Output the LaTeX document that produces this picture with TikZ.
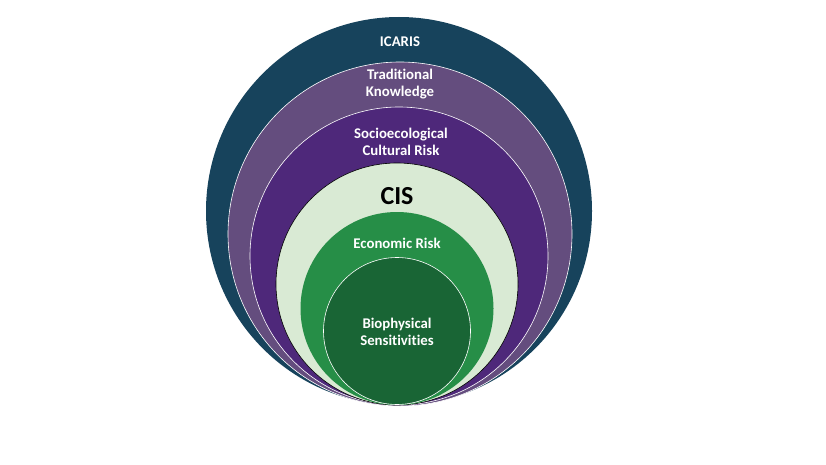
\documentclass[tikz,border=0pt]{standalone}
\usepackage{fontspec}
\setmainfont{Carlito}[Ligatures={NoCommon,NoRare}]
\definecolor{cIcaris}{HTML}{17435C}
\definecolor{cTrad}{HTML}{644D7E}
\definecolor{cSocio}{HTML}{4E287A}
\definecolor{cCIS}{HTML}{D9EAD4}
\definecolor{cEcon}{HTML}{268E47}
\definecolor{cBio}{HTML}{196535}
\begin{document}
\begin{tikzpicture}[x=1pt,y=-1pt,
  lbl/.style={text=white,align=center,font=\bfseries\fontsize{14.8}{17}\selectfont,inner sep=0pt}]
\useasboundingbox (0,0) rectangle (826,465);
\fill[white] (0,0) rectangle (826,465);
% circles
\fill[cIcaris] (399,211) circle[x radius=193, y radius=194];
\filldraw[cTrad,draw=white,line width=0.6pt] (400,234) circle[radius=172];
\filldraw[cSocio,draw=white,line width=0.6pt] (399,256) circle[radius=149];
\filldraw[cCIS,draw=black,line width=0.6pt] (397,284) circle[radius=121];
\fill[cEcon] (397,308.5) circle[radius=96.5];
\filldraw[cBio,draw=white,line width=0.6pt] (397,331) circle[radius=73.5];
% labels
\node[lbl] (icaris) at (400,42) {ICARIS};
\node[lbl] (trad) at (400,84.5) {Traditional\\Knowledge};
\node[lbl] (socio) at (401,141.5) {Socioecological\\Cultural Risk};
\node[text=black,font=\bfseries\fontsize{26}{30}\selectfont,inner sep=0pt] (cis) at (397,196) {CIS};
\node[lbl] (econ) at (397,243) {Economic Risk};
\node[lbl] (bio) at (397,332) {Biophysical\\Sensitivities};
\end{tikzpicture}
\end{document}
